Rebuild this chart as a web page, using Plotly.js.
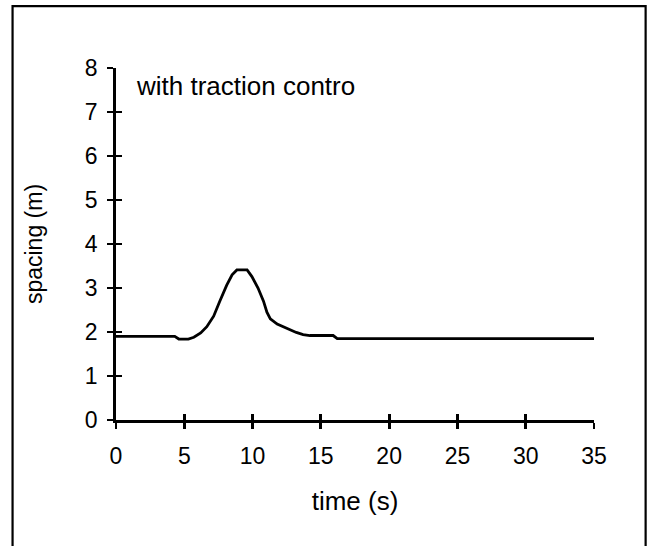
<!DOCTYPE html>
<html>
<head>
<meta charset="utf-8">
<script src="https://cdn.plot.ly/plotly-3.0.1.min.js"></script>
<style>html,body{margin:0;padding:0;background:#fff;}#chart{width:652px;height:546px;}</style>
</head>
<body>
<div id="chart"></div>
<script>
// time (s)
const time = [0, 4.3, 4.6, 5.3, 5.7, 6.2, 6.65, 7.15, 7.6, 8.1, 8.5, 8.85, 9.6, 9.95, 10.4, 10.8, 11.05, 11.3, 11.8, 12.5, 13.2, 13.7, 14.2, 15.9, 16.2, 35];
// spacing (m)
const spacing = [1.9, 1.9, 1.84, 1.84, 1.88, 1.98, 2.12, 2.36, 2.70, 3.06, 3.30, 3.41, 3.41, 3.26, 3.0, 2.70, 2.45, 2.30, 2.18, 2.08, 1.99, 1.94, 1.92, 1.92, 1.85, 1.85];
const xTicks = [0, 5, 10, 15, 20, 25, 30, 35];
const yTicks = [0, 1, 2, 3, 4, 5, 6, 7, 8];
const xRange = [0, 35];
const yRange = [0, 8];
const noteText = 'with traction contro';

const FONT = 'Arial, "Liberation Sans", sans-serif';

const traces = [
  {x: time, y: spacing, type: 'scatter', mode: 'lines',
   line: {color: '#000', width: 2.8}, xaxis: 'x', yaxis: 'y', hoverinfo: 'skip', showlegend: false},
  {x: time, y: spacing, type: 'scatter', mode: 'lines',
   line: {color: 'rgba(0,0,0,0)', width: 0}, xaxis: 'x2', yaxis: 'y2', hoverinfo: 'skip', showlegend: false}
];

const baseAxis = {
  showgrid: false, zeroline: false, fixedrange: true
};

const layout = {
  width: 652, height: 546,
  margin: {l: 116, r: 58, t: 68, b: 126, pad: 0},
  paper_bgcolor: '#fff', plot_bgcolor: '#fff',
  font: {family: FONT, color: '#000', size: 23},
  showlegend: false,
  xaxis: Object.assign({}, baseAxis, {
    range: xRange, tickvals: xTicks, ticktext: xTicks.map(String),
    showline: true, linecolor: '#000', linewidth: 2.8,
    ticks: 'outside', ticklen: 6, tickwidth: 2.8, tickcolor: '#000',
    ticklabelstandoff: 8,
    tickfont: {family: FONT, size: 23, color: '#000'},
    title: {text: 'time (s)', font: {family: FONT, size: 26, color: '#000'}, standoff: 24}
  }),
  yaxis: Object.assign({}, baseAxis, {
    range: yRange, tickvals: yTicks, ticktext: yTicks.map(String),
    showline: true, linecolor: '#000', linewidth: 2.8,
    ticks: 'outside', ticklen: 6, tickwidth: 2.8, tickcolor: '#000',
    ticklabelstandoff: 5,
    tickfont: {family: FONT, size: 23, color: '#000'},
    title: {text: 'spacing (m)', font: {family: FONT, size: 23, color: '#000'}, standoff: 36}
  }),
  xaxis2: Object.assign({}, baseAxis, {
    range: xRange, tickvals: xTicks, overlaying: 'x', anchor: 'y2', side: 'bottom',
    showline: false, ticks: 'inside', ticklen: 6, tickwidth: 2.8, tickcolor: '#000',
    showticklabels: false
  }),
  yaxis2: Object.assign({}, baseAxis, {
    range: yRange, tickvals: yTicks, overlaying: 'y', anchor: 'x2', side: 'left',
    showline: false, ticks: 'inside', ticklen: 6, tickwidth: 2.8, tickcolor: '#000',
    showticklabels: false
  }),
  annotations: [{
    x: 1.3, y: 7.6, xref: 'x', yref: 'y', text: noteText, showarrow: false,
    xanchor: 'left', yanchor: 'middle',
    font: {family: FONT, size: 26, color: '#000'}
  }],
  shapes: [{
    type: 'rect', xref: 'paper', yref: 'paper',
    x0: -0.2164, x1: 1.108, y0: -0.4, y1: 1.1755,
    line: {color: '#000', width: 2.2}, fillcolor: 'rgba(0,0,0,0)', layer: 'below'
  }]
};

Plotly.newPlot('chart', traces, layout, {staticPlot: true, displayModeBar: false});
</script>
</body>
</html>
